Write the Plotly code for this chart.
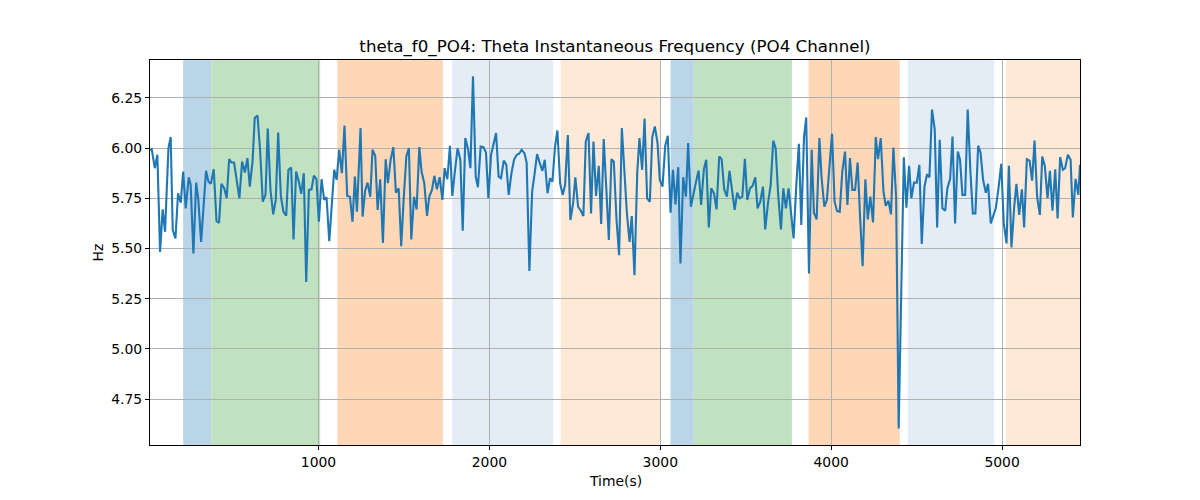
import plotly.graph_objects as go

# ---- data ----
time_s = [
    14, 24, 42, 49, 57, 73, 88, 102, 122, 135, 147, 163, 178, 194, 208, 223, 241, 252, 268, 284,
    297, 313, 342, 356, 370, 387, 403, 418, 432, 448, 463, 477, 491, 506, 522, 537, 553, 569, 584, 598,
    614, 627, 643, 658, 674, 690, 703,
    719, 735, 750, 764, 780, 795, 811, 824, 840, 854, 869, 885, 899, 914, 928, 944, 959, 973, 988,
    1002, 1018, 1033, 1047, 1063, 1078, 1092, 1106, 1121, 1137, 1152, 1168, 1184, 1199, 1213, 1225,
    1246, 1258, 1273, 1287, 1303, 1316, 1332, 1346, 1361, 1377,
    1393, 1406, 1422, 1438, 1453, 1469, 1484, 1498, 1514, 1529, 1543, 1559, 1574, 1590, 1603, 1619,
    1635, 1648, 1664, 1678, 1693, 1709, 1725, 1738, 1754, 1769, 1783, 1799, 1814, 1830, 1844, 1859,
    1875, 1889, 1904, 1920, 1933, 1949, 1965, 1980, 1994, 2010, 2025, 2039, 2054,
    2068, 2084, 2099, 2113, 2129, 2144, 2160, 2174, 2189, 2205, 2218, 2234, 2250, 2265, 2279, 2295,
    2310, 2324, 2340, 2355, 2369, 2384, 2398, 2414, 2429, 2443, 2459, 2474, 2490, 2503, 2519, 2535,
    2550, 2564, 2580, 2595, 2609, 2624, 2640, 2654, 2669, 2685, 2699, 2714, 2728,
    2744, 2759, 2775, 2789, 2804, 2820, 2833, 2849, 2865, 2878, 2894, 2908, 2923, 2939, 2953, 2968,
    2984, 2997, 3013, 3029, 3044, 3060, 3074, 3089, 3105, 3118, 3134, 3150, 3163, 3179, 3195, 3208,
    3224, 3239, 3255, 3269, 3284, 3298, 3314, 3329, 3345, 3359, 3374, 3390, 3405,
    3421, 3435, 3450, 3464, 3480, 3495, 3509, 3525, 3540, 3556, 3569, 3585, 3601, 3614, 3630, 3646,
    3661, 3675, 3690, 3706, 3720, 3735, 3751, 3765, 3780, 3796, 3811, 3825, 3841, 3854, 3870, 3886,
    3899, 3915, 3931, 3944, 3960, 3975, 3989, 4005, 4020, 4034, 4050, 4065, 4081,
    4095, 4110, 4124, 4140, 4155, 4169, 4184, 4200, 4214, 4229, 4245, 4261, 4274, 4290, 4306, 4319,
    4335, 4350, 4364, 4380, 4395, 4425, 4440, 4456, 4469, 4485, 4501, 4516, 4530, 4546, 4561, 4575,
    4590, 4606, 4620, 4635, 4651, 4667, 4680, 4696, 4710, 4725, 4741, 4754,
    4768, 4784, 4799, 4815, 4829, 4844, 4860, 4874, 4889, 4905, 4918, 4934, 4950, 4963, 4979, 4995,
    5010, 5026, 5040, 5055, 5071, 5084, 5100, 5116, 5129, 5145, 5161, 5176, 5190, 5205, 5221, 5235,
    5250, 5266, 5280, 5295, 5311, 5325, 5340, 5356, 5369, 5385, 5401, 5414, 5430, 5446, 5456,
]

freq_hz = [
    5.992, 5.995, 5.900, 5.942, 5.967, 5.483, 5.695, 5.583, 6.000, 6.055, 5.592, 5.550, 5.775, 5.728,
    5.883, 5.700, 5.855, 5.817, 5.475, 5.828, 5.742, 5.533, 5.887, 5.833, 5.822, 5.895, 5.637, 5.628,
    5.822, 5.800, 5.750, 5.945, 5.928, 5.928, 5.833, 5.750, 5.933, 5.878, 5.950, 5.808, 5.933, 6.150,
    6.163, 5.992, 5.733, 5.767, 6.097,
    5.792, 5.670, 5.742, 6.078, 5.758, 5.683, 5.663, 5.892, 5.903, 5.545, 5.883, 5.833, 5.772, 5.875,
    5.333, 5.792, 5.795, 5.863, 5.845, 5.633, 5.845, 5.742, 5.755, 5.537, 5.742, 5.892, 5.842, 5.992,
    5.875, 6.112, 5.762, 5.758, 5.633, 5.858, 5.683, 6.100, 5.658, 5.788, 5.828, 5.758, 5.992, 5.962,
    5.692, 5.845, 5.528,
    5.945, 5.825, 5.942, 6.005, 5.778, 5.800, 5.512, 5.742, 5.958, 6.000, 5.545, 5.758, 5.695, 6.005,
    5.883, 5.825, 5.662, 5.758, 5.792, 5.862, 5.795, 5.855, 5.742, 5.900, 5.845, 6.012, 5.762, 5.892,
    6.000, 5.942, 5.588, 6.050, 5.995, 5.900, 6.358, 5.858, 5.805, 6.008, 6.005, 5.978, 5.750, 5.967,
    6.033, 6.075, 5.858,
    5.850, 5.938, 5.917, 5.767, 5.875, 5.942, 5.967, 5.972, 5.992, 5.975, 5.928, 5.388, 5.783, 5.875,
    5.970, 5.925, 5.887, 5.942, 5.775, 5.850, 5.833, 6.008, 6.088, 5.825, 5.767, 5.817, 6.065, 5.642,
    5.725, 5.855, 5.708, 5.688, 5.662, 6.033, 6.075, 5.675, 6.033, 5.762, 5.912, 5.622, 6.045, 5.783,
    5.542, 5.945, 5.933,
    5.642, 5.467, 6.100, 5.900, 5.683, 5.533, 5.662, 5.367, 5.875, 6.050, 5.892, 6.147, 5.750, 5.733,
    6.055, 6.108, 6.025, 5.842, 5.808, 6.012, 6.062, 5.678, 5.892, 5.720, 5.905, 5.425, 5.855, 5.758,
    6.025, 5.708, 5.783, 5.828, 5.888, 5.717, 5.895, 5.942, 5.605, 5.800, 5.775, 5.695, 5.958, 5.945,
    5.795, 5.758, 5.887,
    5.767, 5.692, 5.778, 5.750, 5.758, 5.947, 5.742, 5.800, 5.812, 5.855, 5.700, 5.733, 5.808, 5.595,
    5.725, 5.817, 6.037, 6.000, 5.767, 5.595, 5.800, 5.700, 5.800, 5.675, 5.550, 5.817, 6.022, 5.617,
    6.055, 6.153, 5.375, 5.992, 5.678, 5.645, 6.050, 5.850, 5.708, 5.742, 5.908, 6.072, 5.733, 5.687,
    5.683, 5.883, 5.983,
    5.717, 5.950, 5.792, 5.792, 5.928, 5.658, 5.412, 5.845, 5.645, 5.758, 5.630, 6.055, 5.945, 6.050,
    5.783, 5.713, 5.738, 5.670, 6.003, 5.758, 4.603, 5.955, 5.703, 5.912, 5.750, 5.828, 5.828, 5.917,
    5.522, 5.808, 5.870, 5.855, 6.192, 6.092, 5.605, 6.042, 5.700, 5.688, 5.800, 5.847, 6.058, 5.625,
    5.983, 5.942,
    5.767, 5.767, 6.192, 5.878, 5.675, 5.675, 6.012, 5.978, 5.842, 5.778, 5.822, 5.625, 5.667, 5.700,
    5.800, 5.922, 5.625, 5.525, 5.912, 5.505, 5.708, 5.822, 5.667, 5.795, 5.605, 5.945, 5.938, 5.838,
    6.038, 5.758, 5.667, 5.958, 5.912, 5.750, 5.887, 5.688, 5.895, 5.650, 5.955, 5.892, 5.900, 5.967,
    5.942, 5.655, 5.847, 5.767, 5.917,
]

# shaded epochs: start, end, colour
span_starts = [208, 372, 1110, 1783, 2417, 3060, 3196, 3868, 4448, 5022]
span_ends = [372, 1010, 1728, 2373, 3001, 3196, 3770, 4401, 4955, 5456]
span_colors = [
    "rgb(186,212,232)", "rgb(192,226,192)", "rgb(254,216,182)",
    "rgb(228,236,246)", "rgb(254,232,214)",
    "rgb(186,212,232)", "rgb(192,226,192)", "rgb(254,216,182)",
    "rgb(228,236,246)", "rgb(254,232,214)",
]

x_ticks = [1000, 2000, 3000, 4000, 5000]
y_ticks = [4.75, 5.00, 5.25, 5.50, 5.75, 6.00, 6.25]

title_text = "theta_f0_PO4: Theta Instantaneous Frequency (PO4 Channel)"
x_label = "Time(s)"
y_label = "Hz"

# ---- figure ----
fig = go.Figure()
fig.add_trace(go.Scatter(
    x=time_s, y=freq_hz, mode="lines",
    line=dict(color="#1f77b4", width=2.1),
    showlegend=False, hoverinfo="x+y",
))

for s, e, c in zip(span_starts, span_ends, span_colors):
    fig.add_vrect(x0=s, x1=e, fillcolor=c, opacity=1, line_width=0, layer="below")

font_family = "DejaVu Sans, Liberation Sans, sans-serif"

# the page body has an 8px margin, so margins are reduced by 8px on the top/left
fig.update_layout(
    width=1200, height=500,
    margin=dict(l=142, r=128, t=52, b=63),
    paper_bgcolor="white",
    plot_bgcolor="rgba(0,0,0,0)",
    font=dict(family=font_family, size=13.9, color="black"),
    title=dict(text=title_text, x=607 / 1200, xanchor="center", xref="container",
               y=1 - 38 / 500, yanchor="middle", yref="container",
               font=dict(size=16.7, family=font_family, color="black")),
    showlegend=False,
)

fig.update_xaxes(
    range=[14, 5456], tickvals=x_ticks, ticktext=[str(v) for v in x_ticks],
    showgrid=True, gridcolor="#b0b0b0", gridwidth=1,
    showline=True, linecolor="black", linewidth=1, mirror=True,
    ticks="outside", ticklen=4, tickcolor="black", zeroline=False,
    tickfont=dict(size=13.9),
)
fig.update_yaxes(
    range=[4.521, 6.439], tickvals=y_ticks, ticktext=[f"{v:.2f}" for v in y_ticks],
    showgrid=True, gridcolor="#b0b0b0", gridwidth=1,
    showline=True, linecolor="black", linewidth=1, mirror=True,
    ticks="outside", ticklen=4, tickcolor="black", zeroline=False,
    tickfont=dict(size=13.9),
)

fig.add_annotation(text=x_label, xref="paper", yref="paper", x=0.5, y=-(481 - 445) / 385,
                   xanchor="center", yanchor="middle", showarrow=False,
                   font=dict(size=13.9, family=font_family))
fig.add_annotation(text=y_label, xref="paper", yref="paper", x=(97 - 150) / 930, y=0.5,
                   xanchor="center", yanchor="middle", showarrow=False, textangle=-90,
                   font=dict(size=13.9, family=font_family))

fig.write_html("out.html")
